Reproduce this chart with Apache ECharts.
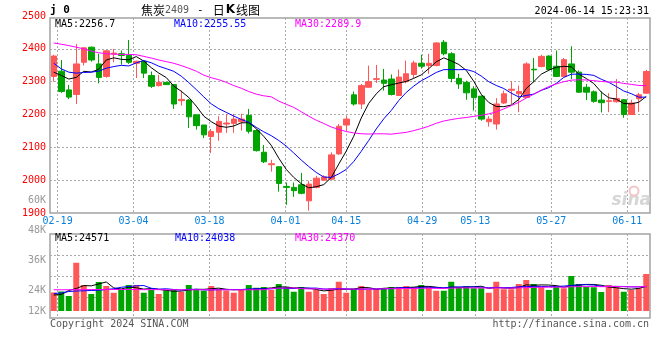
<!DOCTYPE html>
<html><head><meta charset="utf-8">
<script src="https://cdn.jsdelivr.net/npm/echarts@6/dist/echarts.min.js"></script>
<style>html,body{margin:0;padding:0;background:#fff}#c{width:660px;height:360px}</style>
</head><body><div id="c"></div>
<script>
// ---- data ----
const dates = ['02-08','02-19','02-20','02-21','02-22','02-23','02-26','02-27','02-28','02-29',
'03-01','03-04','03-05','03-06','03-07','03-08','03-11','03-12','03-13','03-14',
'03-15','03-18','03-19','03-20','03-21','03-22','03-25','03-26','03-27','03-28',
'03-29','04-01','04-02','04-03','04-08','04-09','04-10','04-11','04-12','04-15',
'04-16','04-17','04-18','04-19','04-22','04-23','04-24','04-25','04-26','04-29',
'04-30','05-06','05-07','05-08','05-09','05-10','05-13','05-14','05-15','05-16',
'05-17','05-20','05-21','05-22','05-23','05-24','05-27','05-28','05-29','05-30',
'05-31','06-03','06-04','06-05','06-06','06-07','06-11','06-12','06-13','06-14'];
const tickDates = ['02-19','03-04','03-18','04-01','04-15','04-29','05-13','05-27','06-11'];

const opens = [2316,2332,2275,2261,2359,2405,2354,2316,2384,2385,
2380,2356,2362,2319,2288,2298,2291,2242,2244,2199,
2168,2133,2146,2171,2173,2178,2197,2151,2085,2047,
2041,1981,1978,1986,1937,1978,2000,2003,2080,2168,
2260,2232,2283,2307,2305,2308,2258,2300,2322,2356,
2349,2349,2420,2385,2310,2298,2278,2256,2178,2171,
2235,2274,2263,2252,2338,2346,2378,2347,2316,2354,
2329,2283,2269,2244,2240,2239,2245,2200,2248,2265];
const closes = [2378,2270,2253,2354,2403,2366,2313,2394,2387,2380,
2359,2362,2326,2286,2298,2291,2232,2246,2193,2166,
2138,2148,2179,2174,2186,2186,2149,2090,2056,2050,
1990,1978,1968,1960,1988,2006,2010,2077,2164,2186,
2232,2288,2300,2309,2295,2261,2314,2324,2357,2347,
2356,2418,2385,2310,2293,2266,2252,2186,2186,2232,
2263,2277,2270,2354,2336,2377,2337,2316,2367,2329,
2268,2268,2240,2236,2242,2249,2200,2235,2260,2331];
const lows = [2300,2266,2247,2232,2349,2361,2295,2312,2359,2352,
2354,2311,2311,2281,2285,2290,2217,2227,2159,2154,
2128,2082,2120,2144,2144,2151,2142,2087,2052,2026,
1965,1925,1949,1957,1907,1975,1998,2001,2077,2151,
2227,2217,2282,2296,2273,2258,2258,2295,2311,2340,
2324,2347,2380,2298,2278,2245,2212,2181,2163,2154,
2232,2232,2207,2250,2298,2344,2334,2314,2314,2308,
2266,2244,2236,2206,2207,2236,2190,2199,2208,2263];
const highs = [2382,2366,2290,2415,2405,2407,2385,2396,2400,2395,
2427,2364,2364,2331,2321,2298,2293,2273,2247,2199,
2168,2156,2195,2202,2202,2202,2217,2156,2107,2062,
2041,1993,1993,2022,1998,2013,2015,2085,2171,2195,
2270,2293,2349,2351,2339,2322,2337,2364,2364,2382,
2385,2420,2427,2390,2324,2303,2286,2258,2195,2250,
2273,2300,2288,2359,2372,2382,2380,2395,2372,2408,
2334,2293,2273,2270,2265,2308,2247,2245,2266,2336];
const volumes = [23000,23400,21600,34900,26000,22400,27200,25600,22900,24000,
26000,26000,22900,24000,22400,23900,24300,23300,26000,24000,
23700,25600,24400,23800,22900,24000,26000,24900,25200,24000,
26400,25300,23300,25200,23300,24000,22400,24700,27300,22900,
24500,25600,24300,24500,24500,25200,25200,25600,25200,26000,
25200,23700,23700,27300,25200,25600,24700,24700,22900,27300,
24300,24300,26400,28000,26400,25100,24000,25300,24700,29600,
26400,25200,25100,23200,26000,25100,23300,24000,24700,30400];

// moving-average values at the left edge (history before the window)
const ma5Lead  = [2329,2319,2308,2313];
const ma10Lead = [2356,2339,2329,2326,2328,2329,2332,2341,2346];
const ma30Lead = [2418,2414,2410,2405,2400,2393,2388,2385,2384,2383,2383,2382,2377,2372,2366,
                  2361,2356,2349,2341,2332,2320,2312,2306,2298,2288,2280,2270,2262,2257];
const vma5Lead  = [22000,22200,23800,24600];
const vma10Lead = [22600,22800,23400,23600,23700,23800,23900,24200,24500];
const vma30Lead = [24100,24100,24100,24150,24150,24200,24200,24200,24200,24200,24200,24200,24150,24150,24150,
                   24100,24100,24100,24100,24100,24100,24100,24100,24100,24100,24100,24100,24100,24100];

const priceTicks = [1900,2000,2100,2200,2300,2400,2500];
const volTicks = [12000,24000,36000,48000,60000];
const priceMaText = ['2256.7','2255.55','2289.9'];
const volMaText = ['24571','24038','24370'];
const titleCode = 'j 0';
const stamp = '2024-06-14 15:23:31';

// ---- build ----
function movingAvg(vals, n, lead) {
  return vals.map((_, i) => {
    if (i < n - 1) return lead[i];
    let s = 0; for (let k = i - n + 1; k <= i; k++) s += vals[k];
    return +(s / n).toFixed(2);
  });
}
const RED = '#ff5757', GREEN = '#00a400';
const candleData = dates.map((d, i) => [opens[i], closes[i], lows[i], highs[i]]);
const volData = volumes.map((v, i) => ({value: v, itemStyle: {color: closes[i] >= opens[i] ? RED : GREEN}}));
const ma5 = movingAvg(closes, 5, ma5Lead), ma10 = movingAvg(closes, 10, ma10Lead), ma30 = movingAvg(closes, 30, ma30Lead);
const vma5 = movingAvg(volumes, 5, vma5Lead), vma10 = movingAvg(volumes, 10, vma10Lead), vma30 = movingAvg(volumes, 30, vma30Lead);

const MONO = '"DejaVu Sans Mono", "Liberation Mono", monospace';
const dotted = {color: '#aaaaaa', width: 1, type: [2, 2]};
const isTick = (i, v) => tickDates.indexOf(v) >= 0;
const vStep = volTicks[1] - volTicks[0];

function lineSeries(data, color, xi, yi) {
  return {type: 'line', xAxisIndex: xi, yAxisIndex: yi, data: data, symbol: 'none', showSymbol: false,
          lineStyle: {color: color, width: 1}, itemStyle: {color: color}, z: 4, silent: true};
}
function txt(x, y, text, fill, extra) {
  return Object.assign({type: 'text', x: x, y: y, z: 20,
    style: Object.assign({text: text, fill: fill, font: '10px ' + MONO, verticalAlign: 'middle', align: 'left'}, extra || {})});
}

const option = {
  animation: false,
  backgroundColor: '#ffffff',
  grid: [
    {left: 50, right: 10, top: 16, bottom: 147, show: false, containLabel: false},
    {left: 50, right: 10, top: 18, bottom: 147, show: true, borderColor: '#a3a3a3', borderWidth: 1.5, backgroundColor: 'transparent', containLabel: false},
    {left: 50, right: 10, top: 234, bottom: 49, show: false, containLabel: false},
    {left: 50, right: 10, top: 234, bottom: 42, show: true, borderColor: '#a3a3a3', borderWidth: 1.5, backgroundColor: 'transparent', containLabel: false},
    {left: 50, right: 10, top: 200, bottom: 40, show: false, containLabel: false}
  ],
  xAxis: [
    {gridIndex: 0, type: 'category', data: dates, boundaryGap: true, show: false},
    {gridIndex: 1, type: 'category', data: dates, boundaryGap: false,
     axisLine: {show: false}, axisTick: {show: false},
     axisLabel: {interval: isTick, color: '#0a80dc', fontFamily: MONO, fontSize: 10, margin: 3},
     splitLine: {show: true, interval: isTick, lineStyle: dotted}},
    {gridIndex: 2, type: 'category', data: dates, boundaryGap: true, show: false},
    {gridIndex: 3, type: 'category', data: dates, boundaryGap: false,
     axisLine: {show: false}, axisTick: {show: false}, axisLabel: {show: false},
     splitLine: {show: true, interval: isTick, lineStyle: dotted}},
    {gridIndex: 4, type: 'category', data: dates, show: false}
  ],
  yAxis: [
    {gridIndex: 0, type: 'value', min: priceTicks[0], max: priceTicks[priceTicks.length - 1],
     interval: priceTicks[1] - priceTicks[0], scale: true,
     axisLine: {show: false}, axisTick: {show: false},
     axisLabel: {color: '#ff0000', fontFamily: MONO, fontSize: 10, margin: 4, formatter: v => String(v)},
     splitLine: {show: true, showMinLine: false, showMaxLine: false, lineStyle: dotted}},
    {gridIndex: 1, type: 'value', show: false},
    {gridIndex: 2, type: 'value', min: 15600, max: 46400, show: false, splitLine: {show: false}},
    {gridIndex: 3, type: 'value', min: 0, max: 4, interval: 1,
     axisLine: {show: false}, axisTick: {show: false}, axisLabel: {show: false},
     splitLine: {show: true, showMinLine: false, showMaxLine: false, lineStyle: dotted}},
    {gridIndex: 4, type: 'value', min: volTicks[0], max: volTicks[volTicks.length - 1], interval: vStep,
     axisLine: {show: false}, axisTick: {show: false}, splitLine: {show: false},
     axisLabel: {color: '#999999', fontFamily: MONO, fontSize: 10, margin: 4,
       formatter: v => v === volTicks[0] ? '{lo|' + (v / 1000) + 'K}' : (v / 1000) + 'K',
       rich: {lo: {padding: [0, 0, 18, 0], color: '#999999', fontFamily: MONO, fontSize: 10}}}}
  ],
  series: [
    {type: 'candlestick', xAxisIndex: 0, yAxisIndex: 0, data: candleData, barWidth: 6, z: 3,
     itemStyle: {color: RED, color0: GREEN, borderColor: RED, borderColor0: GREEN, borderWidth: 1}},
    lineSeries(ma5, '#000000', 0, 0),
    lineSeries(ma10, '#0000ff', 0, 0),
    lineSeries(ma30, '#ff00ff', 0, 0),
    {type: 'bar', xAxisIndex: 2, yAxisIndex: 2, data: volData, barWidth: 6, z: 3},
    lineSeries(vma5, '#000000', 2, 2),
    lineSeries(vma10, '#0000ff', 2, 2),
    lineSeries(vma30, '#ff00ff', 2, 2)
  ],
  graphic: [
    {type: 'text', x: 651, y: 201, z: 1, style: {text: 'sina', fill: '#d6d6d6', font: 'italic bold 17px "DejaVu Sans"', align: 'right', verticalAlign: 'middle'}},
    {type: 'circle', z: 1, shape: {cx: 634, cy: 191, r: 4.5}, style: {fill: 'none', stroke: '#f2c6c6', lineWidth: 2}},
    txt(50, 10, titleCode, '#000', {font: 'bold 11px ' + MONO}),
    {type: 'text', x: 141, y: 10, z: 20, style: {
      text: '{cn|焦炭}{num|2409}{d|-}{cn|日}{k|K}{cn|线图}', verticalAlign: 'middle', align: 'left',
      rich: {
        cn: {fontSize: 12, fontFamily: '"Noto Sans CJK SC"', fill: '#000'},
        num: {fontSize: 10, fontFamily: MONO, fill: '#555'},
        d: {fontSize: 11, fontFamily: MONO, fill: '#000', padding: [0, 9, 0, 8]},
        k: {fontSize: 12, fontFamily: '"DejaVu Sans"', fontWeight: 'bold', fill: '#000', padding: [0, 1, 0, 1]}
      }}},
    txt(649, 11.5, stamp, '#000', {align: 'right'}),
    txt(55, 24, 'MA5:' + priceMaText[0], '#000'),
    txt(174, 24, 'MA10:' + priceMaText[1], '#0000ff'),
    txt(295, 24, 'MA30:' + priceMaText[2], '#ff00ff'),
    txt(55, 238.5, 'MA5:' + volMaText[0], '#000'),
    txt(175, 238.5, 'MA10:' + volMaText[1], '#0000ff'),
    txt(295, 238.5, 'MA30:' + volMaText[2], '#ff00ff'),
    txt(50, 324, 'Copyright 2024 SINA.COM', '#555'),
    txt(649, 324, 'http://finance.sina.com.cn', '#555', {align: 'right'})
  ]
};
const chart = echarts.init(document.getElementById('c'), null, {renderer: 'canvas'});
chart.setOption(option);
</script>
</body></html>
